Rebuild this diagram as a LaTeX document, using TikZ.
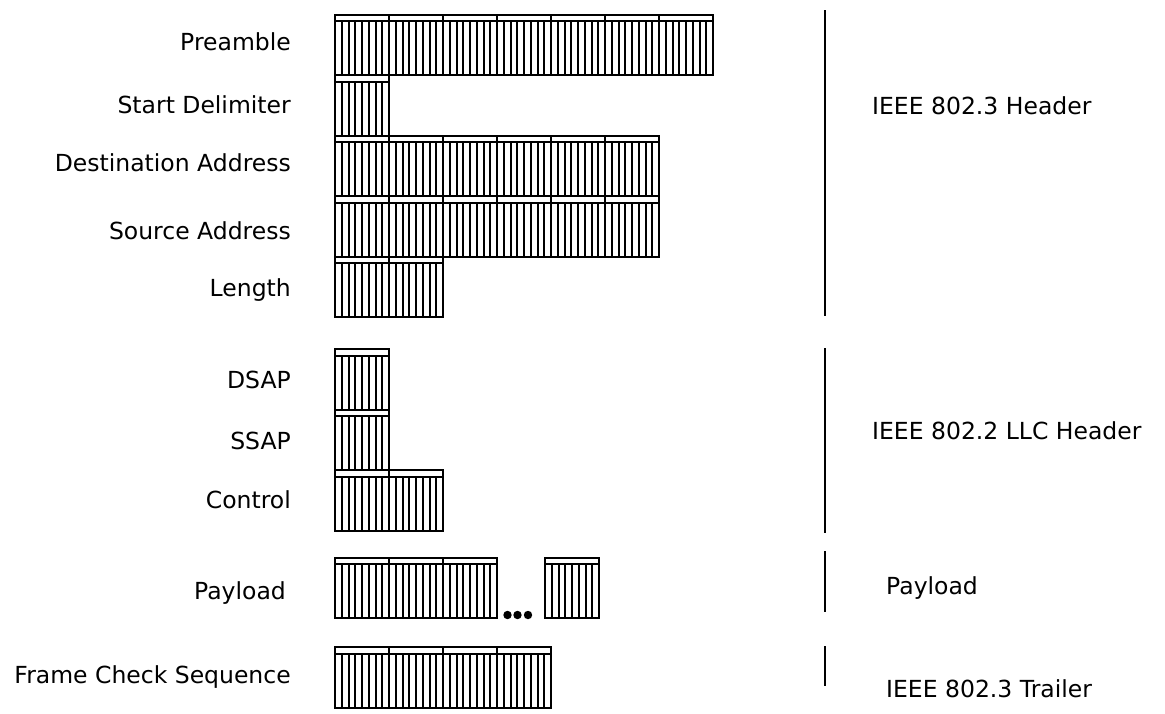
\documentclass[tikz,border=0pt]{standalone}
\usepackage{fontspec}
\setmainfont{DejaVu Sans}
\tikzset{
  bitline/.style={line width=2pt, line join=miter},
  sepline/.style={line width=1.8pt},
  lab/.style={font=\fontsize{23.5}{28}\selectfont, inner sep=0pt},
}
\newcommand\byterow[3]{% #1 left x, #2 top y, #3 number of bytes
  \foreach \b in {1,...,#3}{
    \pgfmathsetmacro\xa{#1+54*(\b-1)}
    \draw[bitline] (\xa,#2) rectangle ++(54,60.5);
    \draw[bitline] (\xa,#2+6.5) -- ++(54,0);
    \foreach \k in {1,...,7}
      \draw[bitline] (\xa+6.75*\k,#2+6.5) -- (\xa+6.75*\k,#2+60.5);
  }}
\begin{document}
\begin{tikzpicture}[x=1pt,y=-1pt]
\useasboundingbox (0,0) rectangle (1165,713);
% byte rows
\byterow{335}{14.5}{7}
\byterow{335}{75}{1}
\byterow{335}{135.5}{6}
\byterow{335}{196}{6}
\byterow{335}{256.5}{2}
\byterow{335}{349}{1}
\byterow{335}{409.5}{1}
\byterow{335}{470}{2}
\byterow{335}{557.5}{3}
\byterow{545}{557.5}{1}
\byterow{335}{647}{4}
% ellipsis dots
\foreach \dx in {507.5,517.5,528} \fill (\dx,615) circle (4.2);
% left labels
\node[lab, anchor=mid east] (lpre) at (291,48) {Preamble};
\node[lab, anchor=mid east] (lsd) at (291,111) {Start Delimiter};
\node[lab, anchor=mid east] (lda) at (291,169) {Destination Address};
\node[lab, anchor=mid east] (lsa) at (291,237) {Source Address};
\node[lab, anchor=mid east] (llen) at (291,294) {Length};
\node[lab, anchor=mid east] (ldsap) at (291,386) {DSAP};
\node[lab, anchor=mid east] (lssap) at (291,447) {SSAP};
\node[lab, anchor=mid east] (lctl) at (291,506) {Control};
\node[lab, anchor=mid east] (lpay) at (286,597) {Payload};
\node[lab, anchor=mid east] (lfcs) at (291,681) {Frame Check Sequence};
% separators
\coordinate (s1a) at (825,10);  \coordinate (s1b) at (825,316);
\coordinate (s2a) at (825,348); \coordinate (s2b) at (825,533);
\coordinate (s3a) at (825,551); \coordinate (s3b) at (825,612);
\coordinate (s4a) at (825,646); \coordinate (s4b) at (825,686);
\draw[sepline] (s1a) -- (s1b);
\draw[sepline] (s2a) -- (s2b);
\draw[sepline] (s3a) -- (s3b);
\draw[sepline] (s4a) -- (s4b);
% right labels
\node[lab, anchor=mid west] (rh) at (872,112) {IEEE 802.3 Header};
\node[lab, anchor=mid west] (rllc) at (872,437) {IEEE 802.2 LLC Header};
\node[lab, anchor=mid west] (rpay) at (886,592) {Payload};
\node[lab, anchor=mid west] (rtr) at (886,695) {IEEE 802.3 Trailer};
\end{tikzpicture}
\end{document}
